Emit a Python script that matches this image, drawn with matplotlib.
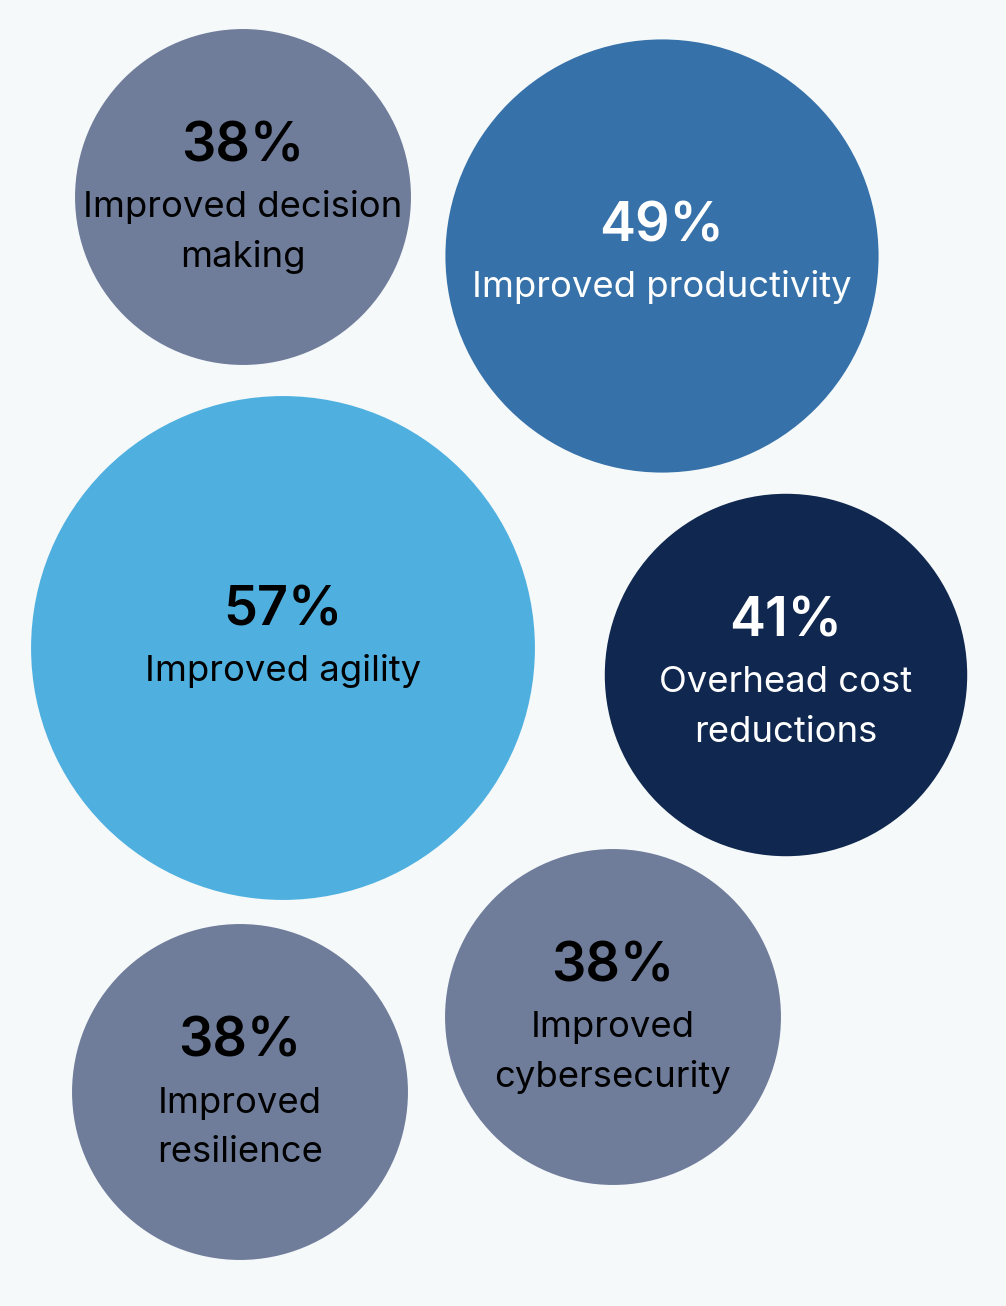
import matplotlib
matplotlib.use("Agg")
import matplotlib.pyplot as plt
from matplotlib.patches import Circle

# данные
labels = ["Improved decision\nmaking", "Improved productivity", "Improved agility",
          "Overhead cost\nreductions", "Improved\ncybersecurity", "Improved\nresilience"]
values = [38, 49, 57, 41, 38, 38]

# раскладка кругов (пиксели)
centers = [(243, 197), (662, 256), (283, 648), (786, 675), (613, 1017), (240, 1092)]
shifts = [0, -4, -12, -3, 0, 0]
colors = ["#6f7d9b", "#3672a9", "#4fb0e0", "#10284f", "#6f7d9b", "#6f7d9b"]
text_colors = ["#000000", "#ffffff", "#000000", "#ffffff", "#000000", "#000000"]
px_per_pct = 4.42

W, H = 1006, 1306
fig = plt.figure(figsize=(W / 100, H / 100), dpi=100)
fig.patch.set_facecolor("#f6f9fa")
ax = fig.add_axes([0, 0, 1, 1])
ax.set_xlim(0, W)
ax.set_ylim(H, 0)
ax.set_aspect("equal")
ax.axis("off")

pt = 72 / 100  # пиксели -> пункты
for lab, val, (cx, cy), dy, col, tc in zip(labels, values, centers, shifts, colors, text_colors):
    ax.add_patch(Circle((cx, cy), val * px_per_pct, facecolor=col, edgecolor="none"))
    lines = lab.split("\n")
    block = 40 + 56 + 49 * (len(lines) - 1)
    top = cy - block / 2 - 3 + dy
    ax.text(cx, top + 40, f"{val}%", ha="center", va="baseline", color=tc,
            fontsize=54 * pt, fontweight="semibold", family="Inter")
    for i, line in enumerate(lines):
        ax.text(cx, top + 40 + 56 + 49 * i, line, ha="center", va="baseline",
                color=tc, fontsize=36.5 * pt, family="Inter")

fig.savefig("out.png", dpi=100, facecolor=fig.get_facecolor())
